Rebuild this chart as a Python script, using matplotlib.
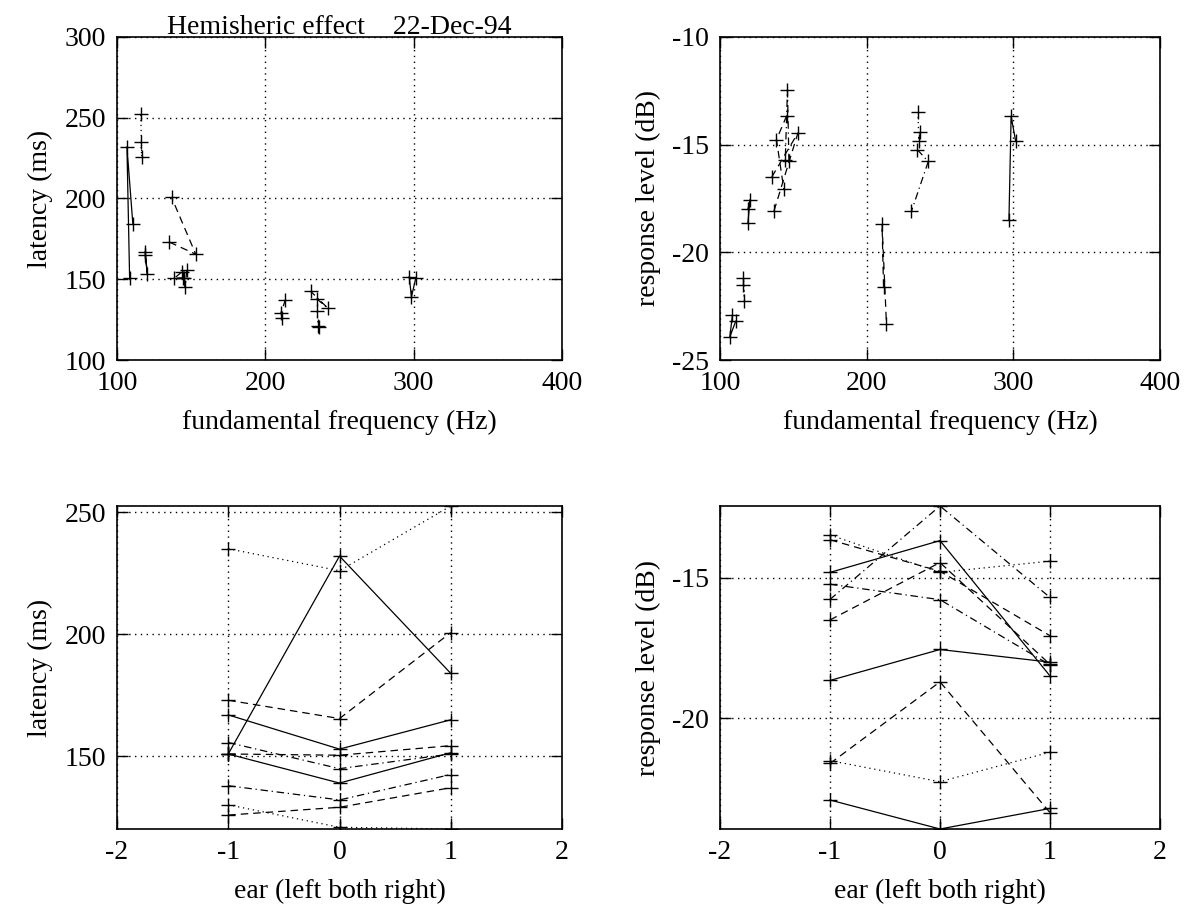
import matplotlib
matplotlib.use("Agg")
import matplotlib.pyplot as plt

plt.rcParams['font.family'] = ['Liberation Serif', 'DejaVu Serif']
plt.rcParams['font.size'] = 20

#%% Data: one row per stimulus, columns = ear (left, both, right)
ears = [-1, 0, 1]

f0_hz = [
    [108.5, 106.7, 110.7],
    [116.0, 116.7, 116.0],
    [119.0, 120.5, 119.0],
    [135.3, 153.1, 136.8],
    [145.5, 138.5, 143.5],
    [147.0, 146.0, 144.5],
    [211.5, 210.5, 213.5],
    [235.0, 235.5, 236.5],
    [234.5, 242.0, 230.5],
    [301.5, 298.5, 297.0],
]

latency_ms = [
    [151.0, 232.0, 184.0],
    [235.0, 226.0, 252.5],
    [167.0, 153.0, 165.0],
    [173.0, 165.5, 200.7],
    [151.0, 150.5, 154.4],
    [155.7, 145.0, 151.0],
    [126.0, 129.2, 137.2],
    [130.2, 121.0, 120.3],
    [138.0, 132.2, 142.6],
    [151.0, 139.1, 151.5],
]

level_db = [
    [-22.90, -23.93, -23.20],
    [-21.50, -22.25, -21.20],
    [-18.65, -17.55, -18.00],
    [-16.50, -14.46, -18.08],
    [-13.65, -14.77, -17.06],
    [-15.77, -12.45, -15.70],
    [-21.60, -18.70, -23.35],
    [-13.48, -14.81, -14.41],
    [-15.23, -15.78, -18.10],
    [-14.81, -13.68, -18.49],
]

#line style per stimulus (matlab style order)
styles = ['-', ':', '-', (0, (6, 4)), (0, (6, 4)), (0, (6, 3, 1, 3)),
          (0, (6, 4)), (0, (1, 3)), (0, (6, 3, 1, 3)), '-']
styles = [(0, (1, 3)) if s == ':' else s for s in styles]


def setup_axes(ax):
    ax.grid(True, color='black', linestyle=(0, (1, 3.2)), linewidth=1.0)
    ax.tick_params(direction='in', length=8, width=1, top=True, right=True,
                   pad=8, labelsize=20)
    for sp in ax.spines.values():
        sp.set_linewidth(1.2)


def draw(ax, xs, ys):
    for i in range(len(ys)):
        ax.plot(xs[i], ys[i], color='black', linestyle=styles[i], linewidth=0.9,
                marker='+', markersize=10, markeredgewidth=1.0)


fig = plt.figure(figsize=(11.95, 9.18), dpi=100)
W, H = 1195.0, 918.0

def pos(l, r, t, b):
    return [l / W, 1 - b / H, (r - l) / W, (b - t) / H]

ax1 = fig.add_axes(pos(117, 562, 37, 360))
ax2 = fig.add_axes(pos(720, 1160, 37, 360))
ax3 = fig.add_axes(pos(117, 562, 506, 829))
ax4 = fig.add_axes(pos(720, 1160, 506, 829))

#Top left: latency vs f0
draw(ax1, f0_hz, latency_ms)
ax1.set_xlim(100, 400)
ax1.set_ylim(100, 300)
ax1.set_xticks([100, 200, 300, 400])
ax1.set_yticks([100, 150, 200, 250, 300])
ax1.set_xlabel('fundamental frequency (Hz)', labelpad=10)
ax1.set_ylabel('latency (ms)', labelpad=8)
ax1.set_title('Hemisheric effect    22-Dec-94', fontsize=20, pad=2)
setup_axes(ax1)

#Top right: level vs f0
draw(ax2, f0_hz, level_db)
ax2.set_xlim(100, 400)
ax2.set_ylim(-25, -10)
ax2.set_xticks([100, 200, 300, 400])
ax2.set_yticks([-25, -20, -15, -10])
ax2.set_xlabel('fundamental frequency (Hz)', labelpad=10)
ax2.set_ylabel('response level (dB)', labelpad=8)
setup_axes(ax2)

#Bottom left: latency vs ear
ear_x = [ears] * len(latency_ms)
draw(ax3, ear_x, latency_ms)
lat_all = [v for row in latency_ms for v in row]
ax3.set_xlim(-2, 2)
ax3.set_ylim(min(lat_all), max(lat_all))
ax3.set_xticks([-2, -1, 0, 1, 2])
ax3.set_yticks([150, 200, 250])
ax3.set_xlabel('ear (left both right)', labelpad=10)
ax3.set_ylabel('latency (ms)', labelpad=8)
setup_axes(ax3)

#Bottom right: level vs ear
draw(ax4, ear_x, level_db)
lev_all = [v for row in level_db for v in row]
ax4.set_xlim(-2, 2)
ax4.set_ylim(min(lev_all), max(lev_all))
ax4.set_xticks([-2, -1, 0, 1, 2])
ax4.set_yticks([-20, -15])
ax4.set_xlabel('ear (left both right)', labelpad=10)
ax4.set_ylabel('response level (dB)', labelpad=8)
setup_axes(ax4)

for ax in (ax3, ax4):
    ax.set_xticklabels(['-2', '-1', '0', '1', '2'])
for ax in (ax2, ax4):
    ax.set_yticklabels([str(int(t)) for t in ax.get_yticks()])

fig.savefig('out.png', dpi=100)
